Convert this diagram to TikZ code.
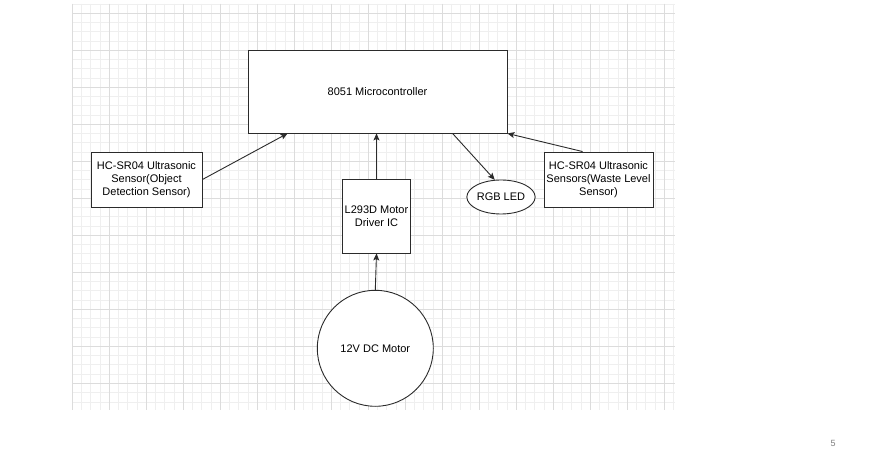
\documentclass[tikz,border=0pt]{standalone}
\usepackage{fontspec}
\setmainfont{Liberation Sans}
\usetikzlibrary{arrows.meta,shapes.geometric,calc}
\definecolor{gridminor}{HTML}{EFEFEF}
\definecolor{gridmajor}{HTML}{DCDCDC}
\definecolor{edge}{HTML}{2B2B2B}
\tikzset{
  blk/.style={draw=edge,line width=0.9pt,fill=white,rectangle,inner sep=2pt,align=center,font=\fontsize{11}{13.3}\selectfont,text=black},
  conn/.style={draw=edge,line width=0.9pt,-{Stealth[length=7pt,width=6pt,inset=1.5pt]}}
}
\begin{document}
\begin{tikzpicture}[x=1pt,y=-1pt]
\fill[white] (0,0) rectangle (892,454);
\useasboundingbox (0,0) rectangle (892,454);
% grid
\foreach \i in {0,...,65} {\draw[gridminor,line width=0.5pt] ({72+9.25*\i},4) -- ({72+9.25*\i},410);}
\foreach \j in {0,...,43} {\draw[gridminor,line width=0.5pt] (72,{4+9.25*\j}) -- (675,{4+9.25*\j});}
\foreach \i in {0,...,16} {\draw[gridmajor,line width=0.5pt] ({72+37*\i},4) -- ({72+37*\i},410);}
\foreach \j in {0,...,10} {\draw[gridmajor,line width=0.5pt] (72,{13.25+37*\j}) -- (675,{13.25+37*\j});}
% nodes
\node[blk,minimum width=259pt,minimum height=83pt] (mc) at (377.5,91.5) {8051 Microcontroller};
\node[blk,minimum width=111pt,minimum height=55pt] (hc1) at (146.5,179.5) {HC-SR04 Ultrasonic\\Sensor(Object\\Detection Sensor)};
\node[blk,minimum width=65pt,minimum height=74pt] (l293) at (376.5,216) {L293D Motor\\Driver IC};
\node[blk,circle,minimum size=116pt] (motor) at (375.3,348.3) {12V DC Motor};
\node[blk,ellipse,minimum width=68pt,minimum height=34pt,inner sep=0pt] (rgb) at (501,197) {RGB LED};
\node[blk,minimum width=109pt,minimum height=55pt] (hc2) at (598.5,179.5) {HC-SR04 Ultrasonic\\Sensors(Waste Level\\Sensor)};
% connectors
\draw[conn] (hc1.east) -- ($(mc.south west)+(40,0)$);
\draw[conn] (l293.north) -- (l293.north |- mc.south);
\draw[conn] (motor.north) -- (l293.south);
\draw[conn] ($(mc.south west)+(205,0)$) -- (rgb.110);
\draw[conn] ($(hc2.north west)+(39,0)$) -- (mc.south east);
% page number
\node[font=\fontsize{9}{10}\selectfont,text=gray] (pg) at (833,443) {5};
\end{tikzpicture}
\end{document}
